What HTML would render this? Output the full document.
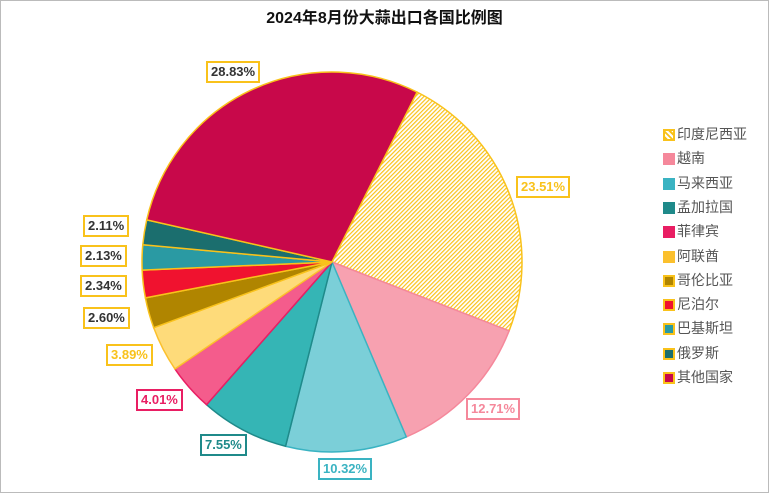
<!DOCTYPE html><html><head><meta charset="utf-8"><style>
body{margin:0;background:#fff}
#c{position:relative;width:767px;height:491px;border:1px solid #bbb;overflow:hidden;font-family:"Liberation Sans","Noto Sans CJK SC",sans-serif}
.t{position:absolute;left:0;width:767px;top:3px;text-align:center;font-weight:bold;font-size:16px;color:#111}
.lb{position:absolute;height:18px;line-height:18px;padding:0 3px;border:2px solid #f9c21b;background:#fff;font-size:13px;font-weight:bold;color:#333}
.lg{position:absolute;left:662px;font-size:14px;color:#555;height:16px;line-height:16px}
.lg i{position:absolute;left:0;top:3px;width:8px;height:8px;border:2px solid #f9c21b}
.lg span{position:absolute;left:14px;white-space:nowrap}
</style></head><body><div id="c">
<div class="t">2024年8月份大蒜出口各国比例图</div>
<svg id="s" width="767" height="491" style="position:absolute;left:0;top:0">
<defs><pattern id="h" width="3" height="3" patternUnits="userSpaceOnUse" patternTransform="rotate(45)"><rect width="3" height="3" fill="#fff"/><rect width="1.2" height="3" fill="#f9c21b"/></pattern></defs>
<g id="g"></g></svg>
<div class="lb" style="left:205px;top:60px">28.83%</div>
<div class="lb" style="left:515px;top:175px;color:#f9c21b">23.51%</div>
<div class="lb" style="left:465px;top:397px;color:#f5889b;border-color:#f5889b">12.71%</div>
<div class="lb" style="left:317px;top:457px;color:#3ab3c2;border-color:#3ab3c2">10.32%</div>
<div class="lb" style="left:199px;top:433px;color:#1f8a8a;border-color:#1f8a8a">7.55%</div>
<div class="lb" style="left:135px;top:388px;color:#e91e63;border-color:#e91e63">4.01%</div>
<div class="lb" style="left:105px;top:343px;color:#f9c21b">3.89%</div>
<div class="lb" style="left:82px;top:306px">2.60%</div>
<div class="lb" style="left:79px;top:274px">2.34%</div>
<div class="lb" style="left:79px;top:244px">2.13%</div>
<div class="lb" style="left:82px;top:214px">2.11%</div>
<div id="L"></div>
</div>
<script>
var d=[[23.51,"url(#h)","#f9c21b","印度尼西亚","#f9c21b"],[12.71,"#f7a1b0","#f5889b","越南","#f5889b"],[10.32,"#7bcfd8","#3ab3c2","马来西亚","#3ab3c2"],[7.55,"#35b5b5","#1f8a8a","孟加拉国","#1f8a8a"],[4.01,"#f45c8c","#e91e63","菲律宾","#e91e63"],[3.89,"#fedb7a","#fbc02d","阿联酋","#fbc02d"],[2.60,"#b08500","#f9c21b","哥伦比亚","#b08500"],[2.34,"#f0122f","#f9c21b","尼泊尔","#f0122f"],[2.13,"#2a9aa3","#f9c21b","巴基斯坦","#2a9aa3"],[2.11,"#1b6e6e","#f9c21b","俄罗斯","#1b6e6e"],[28.83,"#c8084a","#f9c21b","其他国家","#c8084a"]];
var cx=331,cy=261,r=190,a=26.6*Math.PI/180,g="",L="";
d.forEach(function(e,i){var b=a+e[0]/100*2*Math.PI;
var x1=cx+r*Math.sin(a),y1=cy-r*Math.cos(a),x2=cx+r*Math.sin(b),y2=cy-r*Math.cos(b);
g+='<path d="M'+cx+' '+cy+'L'+x1+' '+y1+'A'+r+' '+r+' 0 '+(b-a>Math.PI?1:0)+' 1 '+x2+' '+y2+'Z" fill="'+e[1]+'" stroke="'+e[2]+'" stroke-width="1.5"/>';
a=b;
var y=125+i*24.3;
L+='<div class="lg" style="top:'+y+'px"><i style="background:'+(i==0?'repeating-linear-gradient(45deg,#f9c21b 0 2px,#fff 2px 4px)':e[4])+';border-color:'+(i<6?e[4]:'#f9c21b')+'"></i><span>'+e[3]+'</span></div>';});
document.getElementById('g').innerHTML=g;document.getElementById('L').innerHTML=L;
</script></body></html>
